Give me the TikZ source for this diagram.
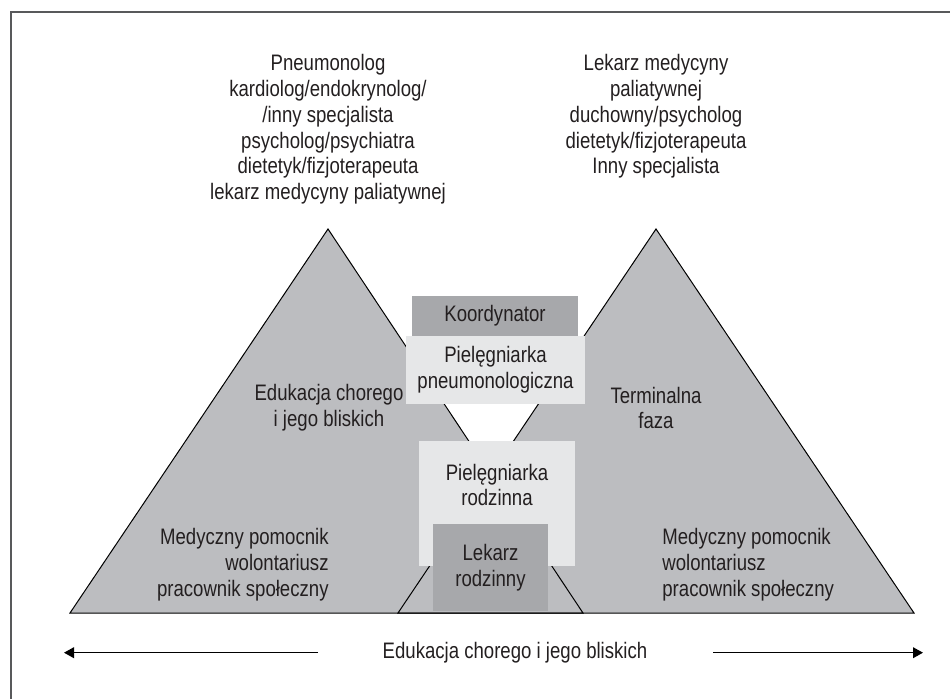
\documentclass[tikz,border=0pt]{standalone}
\usepackage{fontspec}
\setmainfont[FakeStretch=0.83]{Liberation Sans}
\usetikzlibrary{arrows.meta}

\definecolor{txt}{HTML}{231F20}
\definecolor{trigray}{HTML}{BCBDC0}
\definecolor{darkbox}{HTML}{A7A8AB}
\definecolor{lightbox}{HTML}{E6E7E8}
\definecolor{framegray}{HTML}{58595B}

\tikzstyle{lbl}=[text=txt, font=\fontsize{11.2}{12.9}\selectfont, align=center, inner sep=0pt]
\tikzstyle{box}=[inner sep=0pt, text=txt, font=\fontsize{11.2}{12.9}\selectfont, align=center]
\tikzstyle{tri}=[draw=black, line width=0.5pt, line join=miter]
\tikzstyle{arr}=[line width=0.6pt, -{Triangle[length=5pt,width=5.4pt]}]

\begin{document}
\begin{tikzpicture}[x=0.5pt, y=0.5pt]
            \useasboundingbox (0,0) rectangle (950,698);
            % frame (only top and left inside the page)
            \draw[framegray, line width=0.65pt] (11,-20) -- (11,686) -- (970,686);

            % triangles
            \coordinate (A1) at (70,85);
            \coordinate (A2) at (328,469);
            \coordinate (A3) at (583,85);
            \coordinate (B1) at (398,85);
            \coordinate (B2) at (656,469);
            \coordinate (B3) at (914,85);
            \fill[trigray] (A1) -- (A2) -- (A3) -- cycle;
            \fill[trigray] (B1) -- (B2) -- (B3) -- cycle;
            \draw[tri] (A1) -- (A2) -- (A3) -- cycle;
            \draw[tri] (B1) -- (B2) -- (B3) -- cycle;

            % team texts above
            \node[lbl] at (328,568.5) (T1) {Pneumonolog\\kardiolog/endokrynolog/\\/inny specjalista\\psycholog/psychiatra\\dietetyk/fizjoterapeuta\\lekarz medycyny paliatywnej};
            \node[lbl] at (656,581.5) (T2) {Lekarz medycyny\\paliatywnej\\duchowny/psycholog\\dietetyk/fizjoterapeuta\\Inny specjalista};

            % texts in the triangles
            \node[lbl] at (329,290) (E1) {Edukacja chorego\\i jego bliskich};
            \node[lbl] at (656,290) (F1) {Terminalna\\faza};
            \node[lbl, align=right, anchor=east] at (329,133) (M1) {Medyczny pomocnik\\wolontariusz\\pracownik społeczny};
            \node[lbl, align=left, anchor=west] at (662,133) (M2) {Medyczny pomocnik\\wolontariusz\\pracownik społeczny};

            % boxes in the middle
            \node[box, fill=darkbox, minimum width=83pt, minimum height=20pt] at (495,382) (K) {Koordynator};
            \node[box, fill=lightbox, minimum width=89.5pt, minimum height=34pt] at (495.5,328) (P) {Pielęgniarka\\pneumonologiczna};
            \node[box, fill=lightbox, minimum width=78pt, minimum height=62.5pt] at (497,194.5) (R) {};
            \node[lbl] at (497,213) (Rt) {Pielęgniarka\\rodzinna};
            \node[box, fill=darkbox, minimum width=57.5pt, minimum height=43.5pt] at (490.5,130.5) (L) {Lekarz\\rodzinny};

            % bottom arrows
            \node[lbl] at (515,45.3) (B) {Edukacja chorego i jego bliskich};
            \coordinate (la) at (318,45.3);
            \coordinate (lt) at (64,45.3);
            \coordinate (ra) at (713,45.3);
            \coordinate (rt) at (923,45.3);
            \draw[arr] (la) -- (lt);
            \draw[arr] (ra) -- (rt);
        \end{tikzpicture}
\end{document}
